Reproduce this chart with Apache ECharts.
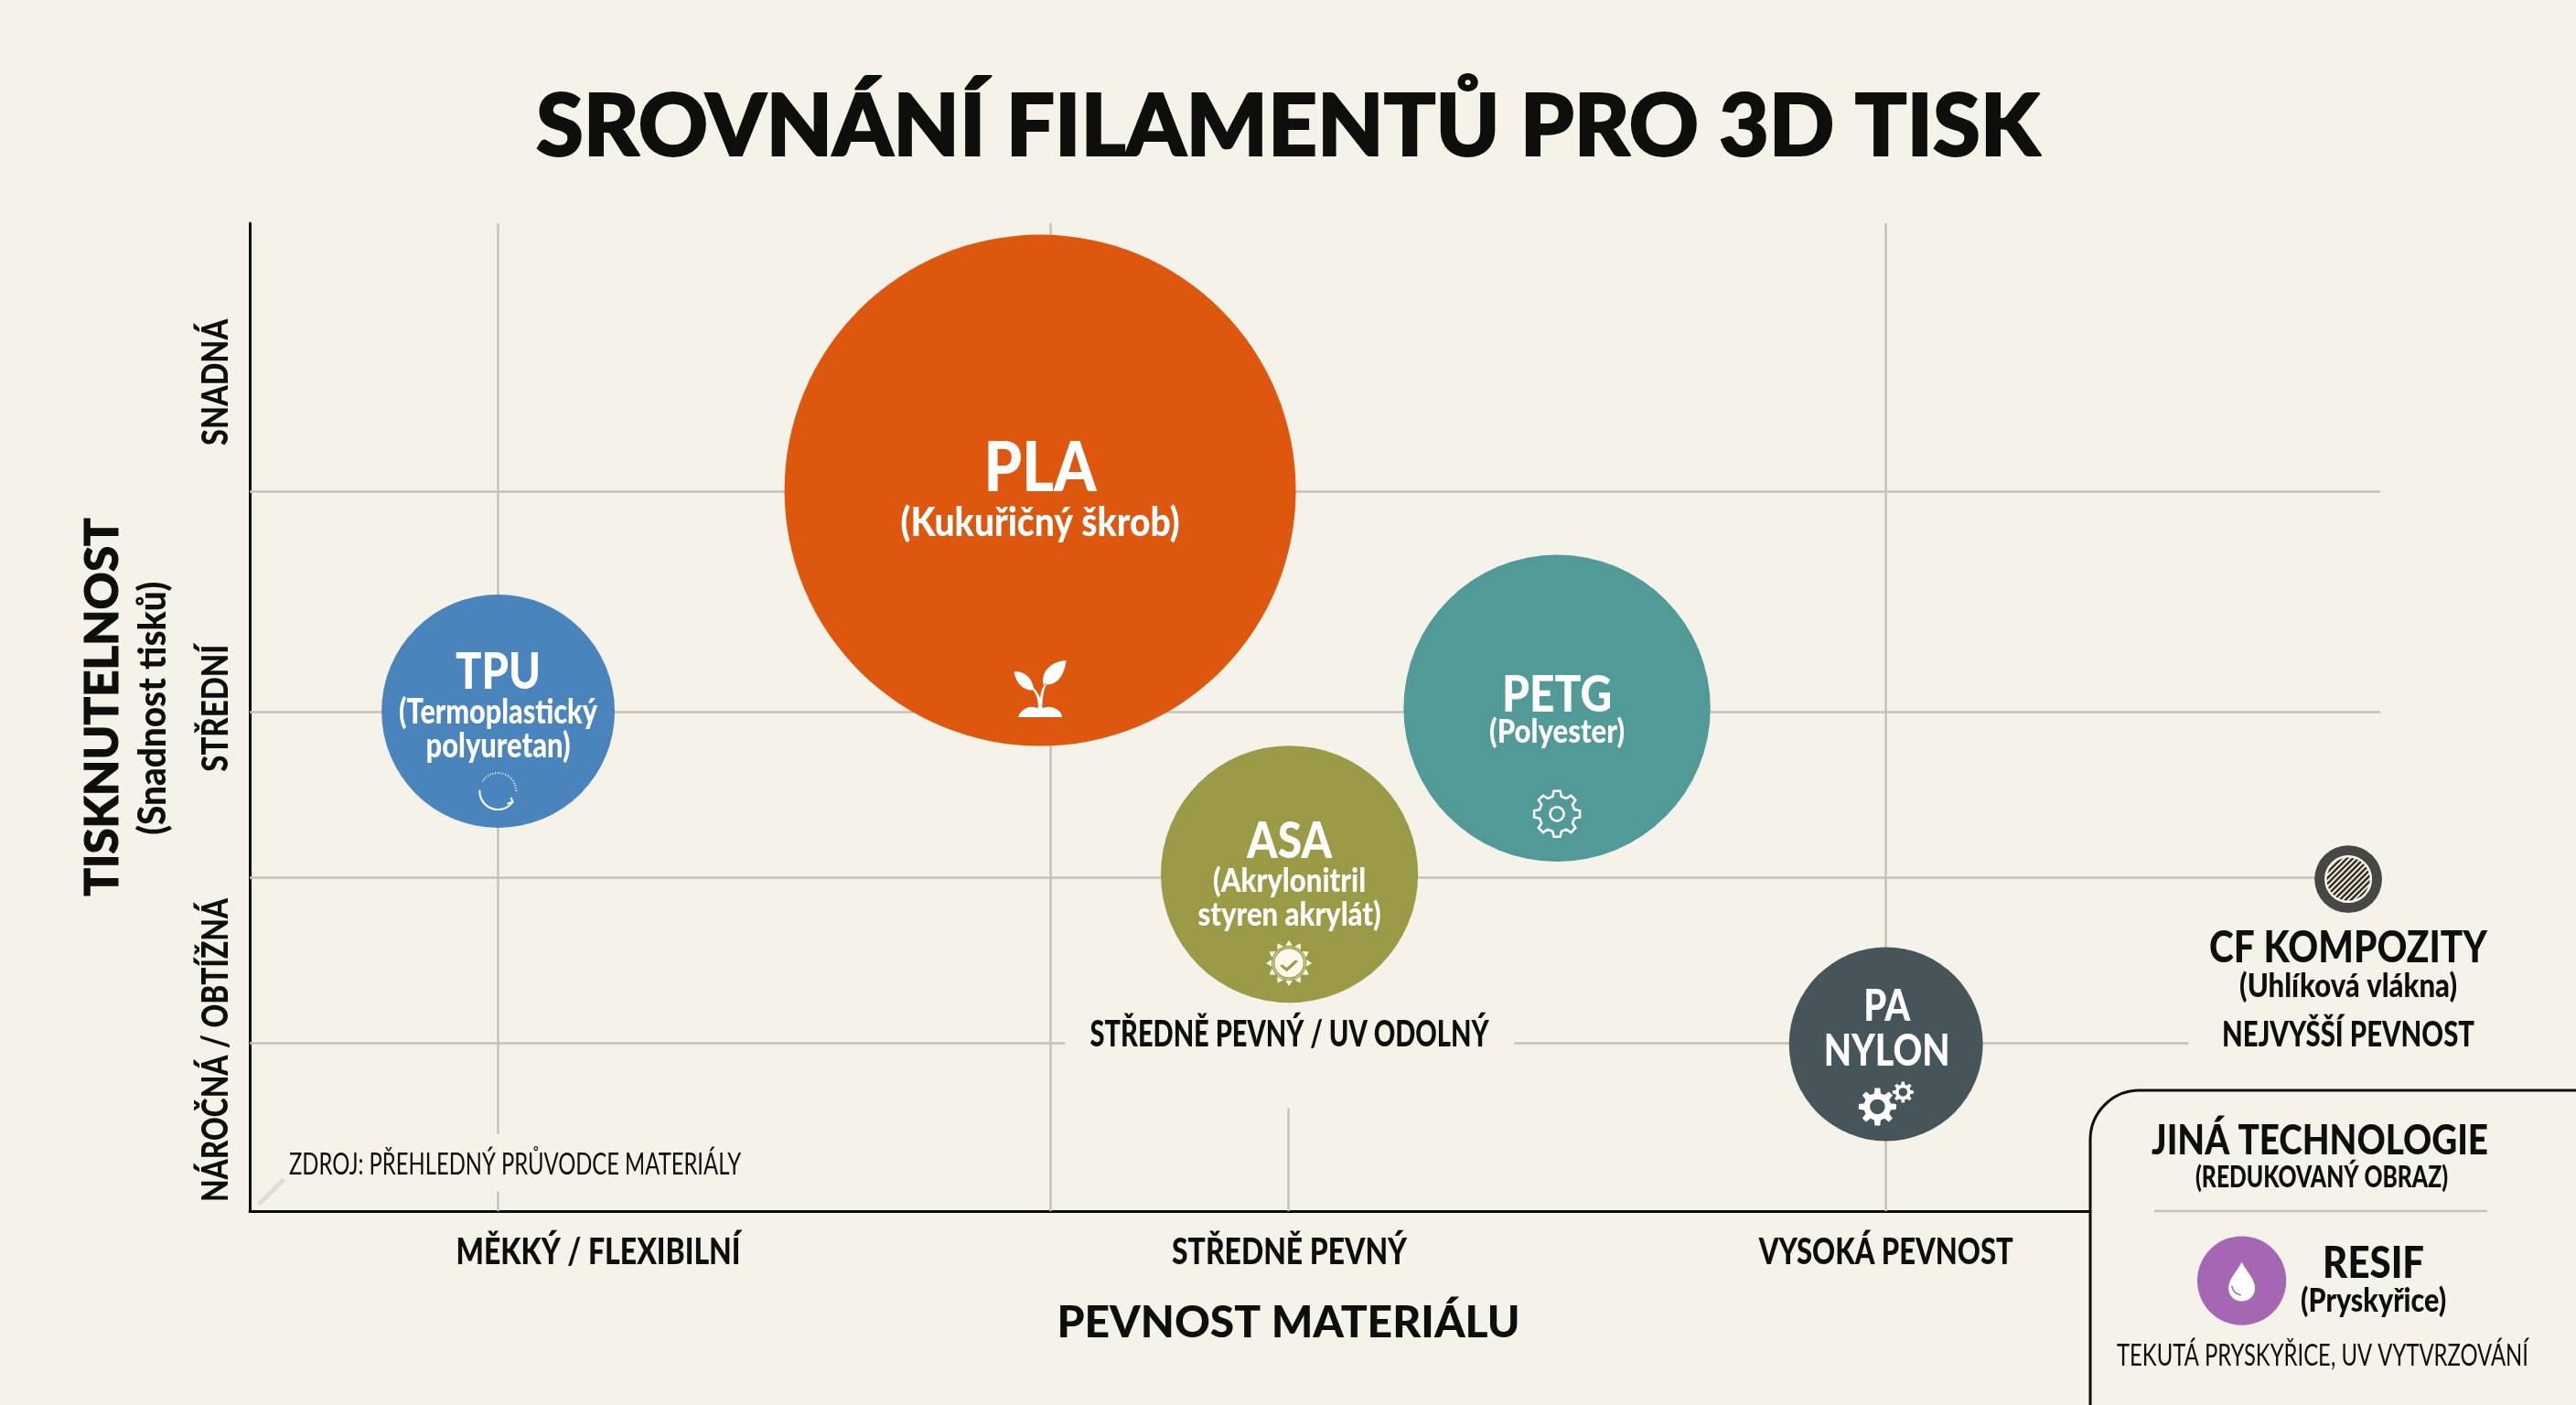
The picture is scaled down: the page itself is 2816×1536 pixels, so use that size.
<!DOCTYPE html>
<html lang="cs"><head><meta charset="utf-8"><title>Srovnání filamentů</title>
<style>html,body{margin:0;padding:0;background:#F5F2EA}#c{width:2816px;height:1536px}</style>
<script src="https://cdn.jsdelivr.net/npm/echarts@6/dist/echarts.min.js"></script></head>
<body><div id="c"></div>
<script>
// ---- data ----
const materials   = ['PLA','TPU','PETG','ASA','PA','CF','RESIF'];
const pevnost     = [37.1, 11.66, 61.36, 48.8, 76.8, 98.5, 93.5];
const tisknutelnost = [72.96, 50.6, 50.9, 34.1, 16.9, 33.6, -7.04];
const velikost    = [100, 45.6, 60, 50.3, 37.9, 13.2, 17.4];
const barvy       = ['#DD570E','#4A84BC','#529A97','#9B9B47','#45555A','#474745','#A566B3'];
const xTickValues = [16.36, 48.8, 76.8];
const xTickLabels = ['MĚKKÝ / FLEXIBILNÍ','STŘEDNĚ PEVNÝ','VYSOKÁ PEVNOST'];
const yTickValues = [83.9, 50.9, 16.3];
const yTickLabels = ['SNADNÁ','STŘEDNÍ','NÁROČNÁ / OBTÍŽNÁ'];
const gridX = [11.66, 37.57, 48.76, 76.8];
const gridY = [72.87, 50.56, 33.8, 17.04];
const gridSegments = [
  [[gridX[0],100],[gridX[0],7.8]], [[gridX[0],2.0],[gridX[0],0]],
  [[gridX[1],100],[gridX[1],0]],
  [[gridX[2],10.4],[gridX[2],0]],
  [[gridX[3],100],[gridX[3],0]],
  [[0,gridY[0]],[100,gridY[0]]],
  [[0,gridY[1]],[100,gridY[1]]],
  [[0,gridY[2]],[97,gridY[2]]],
  [[0,gridY[3]],[38.27,gridY[3]]], [[59.34,gridY[3]],[91,gridY[3]]]
];
const ikonaX = { plant:37.1, spin:11.65, gear:61.36, sun:48.78, check:48.78, big:76.4, small:77.6, drop:93.5, gleam:93.25 };
const ikonaY = { plant:52.87, spin:42.5, gear:40.2, sun:25.1, check:24.9, big:10.56, small:12.04, drop:-7.13, gleam:-8.05 };

// ---- style ----
const INK='#0E0E0C', BG='#F5F2EA', GRID='#C6C2B8', FONT='Lato';
const L=273,T=244,R=2602,B=1324, SCALE=5.59, BOLD=900;

const mctx=document.createElement('canvas').getContext('2d');
function fit(text,w,fs,weight){mctx.font=weight+' '+fs+'px '+FONT;return w/mctx.measureText(text).width;}

// text layer: [text, anchorX, anchorY, dx, dy, target width, font size, weight, colour, rotation]
const W='#FFFFFF';
const textRows=[
  ['PLA',pevnost[0],tisknutelnost[0],0,-26,123,76,BOLD,W],
  ['(Kukuřičný škrob)',pevnost[0],tisknutelnost[0],0,33,305,44,BOLD,W],
  ['TPU',pevnost[1],tisknutelnost[1],0,-44.5,93,55,BOLD,W],
  ['(Termoplastický',pevnost[1],tisknutelnost[1],0,-1.5,217,38,BOLD,W],
  ['polyuretan)',pevnost[1],tisknutelnost[1],0,35.5,158,38,BOLD,W],
  ['PETG',pevnost[2],tisknutelnost[2],0,-17,120,55,BOLD,W],
  ['(Polyester)',pevnost[2],tisknutelnost[2],0,24,148,36,BOLD,W],
  ['ASA',pevnost[3],tisknutelnost[3],0,-38,93,55,BOLD,W],
  ['(Akrylonitril',pevnost[3],tisknutelnost[3],0,5,167,36,BOLD,W],
  ['styren akrylát)',pevnost[3],tisknutelnost[3],0,42,200,36,BOLD,W],
  ['STŘEDNĚ PEVNÝ / UV ODOLNÝ',pevnost[3],tisknutelnost[3],0,173,436,40,BOLD,INK],
  ['PA',pevnost[4],tisknutelnost[4],1,-43,51,47,BOLD,W],
  ['NYLON',pevnost[4],tisknutelnost[4],1,6,138,47,BOLD,W],
  ['CF KOMPOZITY',pevnost[5],tisknutelnost[5],0,73,304,47,BOLD,INK],
  ['(Uhlíková vlákna)',pevnost[5],tisknutelnost[5],0,115,238,36,BOLD,INK],
  ['NEJVYŠŠÍ PEVNOST',pevnost[5],tisknutelnost[5],0,168,276,38,BOLD,INK],
  ['RESIF',pevnost[6],tisknutelnost[6],144,-21,111,47,BOLD,INK],
  ['(Pryskyřice)',pevnost[6],tisknutelnost[6],144,20,159,36,BOLD,INK],
  [xTickLabels[0],xTickValues[0],0,0,43,311,40,BOLD,INK],
  [xTickLabels[1],xTickValues[1],0,0,43,257,40,BOLD,INK],
  [xTickLabels[2],xTickValues[2],0,0,43,278,40,BOLD,INK],
  [yTickLabels[0],0,yTickValues[0],-39,0,138,40,BOLD,INK,Math.PI/2],
  [yTickLabels[1],0,yTickValues[1],-39,0,139,40,BOLD,INK,Math.PI/2],
  [yTickLabels[2],0,yTickValues[2],-39,0,332,40,BOLD,INK,Math.PI/2],
  ['(Snadnost tisků)',0,50.9,-108,0,277,42,BOLD,INK,Math.PI/2]
];
function freeText(text,x,y,w,fs,weight){
  return {type:'text',z:6,x,y:y+2,scaleX:fit(text,w,fs,weight),
    style:{text,fontFamily:FONT,fontWeight:weight,fontSize:fs,fill:INK,align:'center',verticalAlign:'middle'}};
}

function gear(n,ro,ri,hole){
  let d='';
  for(let i=0;i<n;i++){
    const a=i/n*Math.PI*2, w=Math.PI/n;
    const pts=[[ri,a-w*0.62],[ro,a-w*0.36],[ro,a+w*0.36],[ri,a+w*0.62]];
    pts.forEach((p,j)=>{d+=(i===0&&j===0?'M':'L')+(p[0]*Math.cos(p[1])).toFixed(2)+' '+(p[0]*Math.sin(p[1])).toFixed(2)+' ';});
  }
  d+='Z ';
  d+=`M${hole} 0 A${hole} ${hole} 0 1 0 ${-hole} 0 A${hole} ${hole} 0 1 0 ${hole} 0 Z`;
  return 'path://'+d;
}
function spin(){
  const r=20,pt=a=>(r*Math.cos(a)).toFixed(2)+' '+(r*Math.sin(a)).toFixed(2);
  let d='M'+pt(Math.PI*1.02)+' A20 20 0 0 0 '+pt(Math.PI*0.2)+' ';
  const e=Math.PI*0.2; d+='M'+(r*Math.cos(e)-6).toFixed(2)+' '+(r*Math.sin(e)+2).toFixed(2)+' L'+pt(e)+' L'+(r*Math.cos(e)-2).toFixed(2)+' '+(r*Math.sin(e)-5).toFixed(2)+' ';
  for(let a=-Math.PI*0.82;a<Math.PI*0.02;a+=0.14){d+='M'+pt(a)+' L'+pt(a+0.05)+' ';}
  return 'path://'+d;
}
function sun(){
  let d='';const n=12;
  for(let i=0;i<n;i++){
    const a=i/n*Math.PI*2,w=0.2,p=(r,b)=>(r*Math.cos(b)).toFixed(2)+' '+(r*Math.sin(b)).toFixed(2);
    d+='M'+p(19.5,a-w)+' L'+p(25,a)+' L'+p(19.5,a+w)+' Z ';
  }
  d+='M18 0 A18 18 0 1 1 -18 0 A18 18 0 1 1 18 0 Z';
  return 'path://'+d;
}
function hatch(){
  const r=23.5,pitch=4.4,w=2.3;let d='';
  for(let c=-r+1;c<r;c+=pitch){
    const c2=Math.min(c+w,r-0.2);
    const h1=Math.sqrt(Math.max(r*r-c*c,0)),h2=Math.sqrt(Math.max(r*r-c2*c2,0));
    const P=(u,v)=>((u+v)/Math.SQRT2).toFixed(2)+' '+((v-u)/Math.SQRT2).toFixed(2);
    d+='M'+P(-h1,c)+' L'+P(h1,c)+' L'+P(h2,c2)+' L'+P(-h2,c2)+' Z ';
  }
  return 'path://'+d;
}
const PLANT='path://M8 100 C10 90 24 82 34 82 C38 82 42 84 46 84 C47 72 44 58 30 46 L33 44 C41 51 46 58 50 66 C52 52 56 46 60 40 L62 42 C57 52 54 66 54 84 C58 84 60 82 66 82 C78 82 92 90 92 100 Z M0 20 C18 18 36 30 38 52 C20 54 4 42 0 20 Z M100 0 C74 2 52 16 56 42 C82 46 96 28 100 0 Z';
const DROP='path://M50 0 C60 28 100 62 100 100 C100 128 78 150 50 150 C22 150 0 128 0 100 C0 62 40 28 50 0 Z';
const GLEAM='path://M0 0 C1 5 4 9 10 10';
const CHECK='path://M0 5 L6 10 L17 0';

const bubbles=materials.map((m,i)=>({
  name:m,value:[pevnost[i],tisknutelnost[i],velikost[i]],
  itemStyle:{color:barvy[i],opacity:1}
}));
function ikona(k,symbol,size,fill,stroke,sw){
  return {value:[ikonaX[k],ikonaY[k]],symbol,symbolSize:size,
    itemStyle:{opacity:1,color:fill||'rgba(0,0,0,0)',borderColor:stroke||'rgba(0,0,0,0)',borderWidth:sw||0}};
}
const ikony=[
  ikona('plant',PLANT,[57,62],'#fff'),
  ikona('spin',spin(),[40,40],null,'#fff',2),
  ikona('gear',gear(8,25,19.5,7.5),[50,50],null,'#fff',2.5),
  ikona('sun',sun(),[50,50],'#FBF8EC'),
  ikona('sun','circle',33,null,barvy[3],1.6),
  ikona('check',CHECK,[17,10],null,barvy[3],3),
  ikona('big',gear(8,20,14.5,8),[41,41],'#fff'),
  ikona('small',gear(8,11,8,4.5),[23,23],'#fff'),
  ikona('drop',DROP,[29,43],'#fff'),
  ikona('gleam',GLEAM,[10,10],null,barvy[6],1.6)
];
const cfIkona=[
  {value:[pevnost[5],tisknutelnost[5]],symbol:'circle',symbolSize:50,itemStyle:{opacity:1,color:'#EFE6D2',borderColor:'#fff',borderWidth:2}},
  {value:[pevnost[5],tisknutelnost[5]],symbol:hatch(),symbolSize:[47,47],itemStyle:{opacity:1,color:'#2A2926'}}
];

const chart=echarts.init(document.getElementById('c'),null,{renderer:'canvas'});
chart.setOption({
  animation:false,
  backgroundColor:BG,
  title:{text:'SROVNÁNÍ FILAMENTŮ PRO 3D TISK',left:1403,top:88,textAlign:'center',
    textStyle:{fontFamily:FONT,fontWeight:900,fontSize:94,color:INK,textBorderColor:INK,textBorderWidth:2}},
  grid:{left:L,top:T,width:R-L,height:B-T,outerBoundsMode:'none'},
  xAxis:{type:'value',min:0,max:100,
    name:'PEVNOST MATERIÁLU',nameLocation:'middle',nameGap:99,
    nameTextStyle:{fontFamily:FONT,fontWeight:900,fontSize:48,color:INK,padding:[0,58,0,0]},
    axisLine:{show:true,lineStyle:{color:INK,width:3}},axisTick:{show:false},splitLine:{show:false},axisLabel:{show:false}},
  yAxis:{type:'value',min:0,max:100,
    name:'TISKNUTELNOST',nameLocation:'middle',nameGap:135,nameRotate:90,
    nameTextStyle:{fontFamily:FONT,fontWeight:900,fontSize:51,color:INK,padding:[0,0,0,22],textBorderColor:INK,textBorderWidth:1},
    axisLine:{show:true,lineStyle:{color:INK,width:3}},axisTick:{show:false},splitLine:{show:false},axisLabel:{show:false}},
  graphic:[
    {type:'rect',z:1,shape:{x:2285,y:1192,width:700,height:500,r:54},style:{fill:BG,stroke:INK,lineWidth:3}},
    {type:'line',z:1,shape:{x1:2355,y1:1324,x2:2719,y2:1324},style:{stroke:GRID,lineWidth:2.5}},
    freeText('JINÁ TECHNOLOGIE',2536,1245,368,46,BOLD),
    freeText('(REDUKOVANÝ OBRAZ)',2538,1285,276,33,BOLD),
    freeText('TEKUTÁ PRYSKYŘICE, UV VYTVRZOVÁNÍ',2539,1480,450,33,400),
    freeText('ZDROJ: PŘEHLEDNÝ PRŮVODCE MATERIÁLY',563,1272,494,32,400)
  ],
  series:[
    {type:'scatter',name:'mřížka',z:1,data:[],silent:true,
      markLine:{z:1,silent:true,symbol:'none',animation:false,label:{show:false},
        lineStyle:{color:GRID,width:2.5,type:'solid',opacity:1},
        data:gridSegments.map(s=>[{coord:s[0]},{coord:s[1]}]).concat([
          [{coord:[0.43,0.7],lineStyle:{color:'#DEDDD6',width:5}},{coord:[1.59,3.2],lineStyle:{color:'#DEDDD6',width:5}}]
        ])}},
    {type:'scatter',name:'materiály',z:3,clip:false,silent:true,
      symbol:'circle',symbolSize:(v)=>v[2]*SCALE,data:bubbles},
    {type:'scatter',name:'ikony',z:4,clip:false,silent:true,data:ikony.concat(cfIkona)},
    {type:'custom',name:'popisky',z:5,silent:true,clip:false,coordinateSystem:'cartesian2d',
      encode:{x:0,y:1},
      data:textRows.map(r=>[r[1],r[2]]),
      renderItem:(params,api)=>{
        const r=textRows[params.dataIndex];
        const p=api.coord([api.value(0),api.value(1)]);
        const nudge=r[9]?[2,0]:[0,2.5];
        return {type:'text',x:p[0]+r[3]+nudge[0],y:p[1]+r[4]+nudge[1],rotation:r[9]||0,scaleX:fit(r[0],r[5],r[6],r[7]),
          style:{text:r[0],fontFamily:FONT,fontSize:r[6],fontWeight:r[7],fill:r[8],align:'center',verticalAlign:'middle'}};
      }}
  ]
});
</script></body></html>
